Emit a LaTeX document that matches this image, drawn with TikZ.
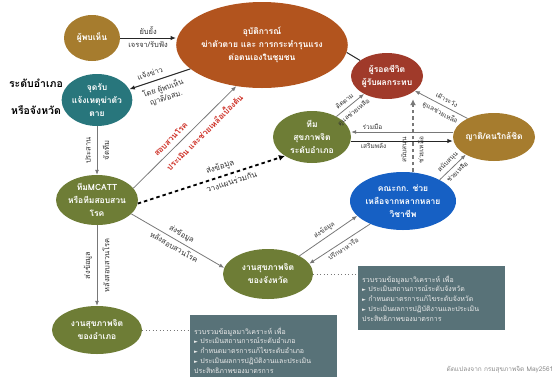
\documentclass[tikz,border=0pt]{standalone}
\usepackage{fontspec}
\setmainfont[Script=Thai]{Loma}
\newfontfamily\symfont{DejaVu Sans}
\usetikzlibrary{shapes.geometric,arrows.meta}
\definecolor{cgold}{RGB}{166,124,46}
\definecolor{crust}{RGB}{178,84,30}
\definecolor{cteal}{RGB}{40,118,124}
\definecolor{cred}{RGB}{160,58,42}
\definecolor{colive}{RGB}{110,125,54}
\definecolor{cblue}{RGB}{22,96,196}
\definecolor{cslate}{RGB}{88,114,120}
\definecolor{cgray}{RGB}{120,120,120}
\definecolor{cdred}{RGB}{205,45,35}
\newcommand{\tri}{{\symfont\fontsize{5}{6}\selectfont ►}\ }
\begin{document}
\begin{tikzpicture}[x=1pt,y=-1pt,
  ell/.style={ellipse,inner sep=0pt,text=white,font=\bfseries\fontsize{8.5}{13}\selectfont,align=center},
  lbl/.style={font=\fontsize{7.5}{10}\selectfont,text=black!80,inner sep=1pt},
  rlbl/.style={font=\bfseries\fontsize{8}{10}\selectfont,text=cdred,inner sep=1pt},
  side/.style={font=\bfseries\fontsize{10.5}{12}\selectfont,text=black},
  garr/.style={draw=cgray,line width=0.8pt,-{Latex[length=5pt,width=4pt]}},
  barr/.style={draw=black!85,line width=1pt,-{Latex[length=5.5pt,width=4.5pt]}},
  dasharr/.style={draw=black,line width=1.8pt,dash pattern=on 3.5pt off 3pt,-{Latex[length=6pt,width=6pt]}},
  gdasharr/.style={draw=cgray,line width=1.8pt,dash pattern=on 3.5pt off 3pt,-{Latex[length=6pt,width=6pt]}},
  dotline/.style={draw=cgray,line width=0.9pt,dash pattern=on 1pt off 2.5pt},
  infobox/.style={rectangle,fill=cslate,text=white!92!black,inner xsep=4pt,inner ysep=2.5pt,anchor=north west,align=left,font=\fontsize{7}{9.8}\selectfont}]
\useasboundingbox (0,0) rectangle (554,376);

% nodes
\node[ell,fill=cgold,minimum width=56pt,minimum height=46pt] (finder) at (92,38) {ผู้พบเห็น};
\node[ell,fill=crust,minimum width=156pt,minimum height=86pt] (incident) at (262,45) {อุบัติการณ์\\ฆ่าตัวตาย และ การกระทำรุนแรง\\ต่อตนเองในชุมชน};
\node[ell,fill=cteal,minimum width=66pt,minimum height=52pt] (notify) at (97,100) {จุดรับ\\แจ้งเหตุฆ่าตัว\\ตาย};
\node[ell,fill=cred,minimum width=72pt,minimum height=46pt] (survivor) at (387,76) {ผู้รอดชีวิต\\ผู้รับผลกระทบ};
\node[ell,fill=colive,minimum width=78pt,minimum height=52pt] (mhteam) at (312,137) {ทีม\\สุขภาพจิต\\ระดับอำเภอ};
\node[ell,fill=cgold,minimum width=82pt,minimum height=48pt] (family) at (494,137) {ญาติ/คนใกล้ชิด};
\node[ell,fill=colive,minimum width=76pt,minimum height=50pt] (mcatt) at (97,200) {ทีมMCATT\\หรือทีมสอบสวน\\โรค};
\node[ell,fill=cblue,minimum width=90pt,minimum height=58pt] (committee) at (403,201) {คณะกก. ช่วย\\เหลือจากหลากหลาย\\วิชาชีพ};
\node[ell,fill=colive,minimum width=90pt,minimum height=48pt] (district) at (97,330) {งานสุขภาพจิต\\ของอำเภอ};
\node[ell,fill=colive,minimum width=90pt,minimum height=50pt] (province) at (268,274) {งานสุขภาพจิต\\ของจังหวัด};

\node[side] (lvl1) at (36,83) {ระดับอำเภอ};
\node[side] (lvl2) at (36,110) {หรือจังหวัด};

\node[infobox,text width=139pt,minimum height=70pt] (boxd) at (190,315) {รวบรวมข้อมูลมาวิเคราะห์ เพื่อ\\
\tri ประเมินสถานการณ์ระดับอำเภอ\\
\tri กำหนดมาตรการแก้ไขระดับอำเภอ\\
\tri ประเมินผลการปฏิบัติงานและประเมิน\\
ประสิทธิภาพของมาตรการ};
\node[infobox,text width=139pt,minimum height=64pt] (boxp) at (358,266) {รวบรวมข้อมูลมาวิเคราะห์ เพื่อ\\
\tri ประเมินสถานการณ์ระดับจังหวัด\\
\tri กำหนดมาตรการแก้ไขระดับจังหวัด\\
\tri ประเมินผลการปฏิบัติงานและประเมิน\\
ประสิทธิภาพของมาตรการ};

\node[anchor=west,font=\fontsize{6.5}{8}\selectfont,text=black!45] (note) at (443,370) {ดัดแปลงจาก กรมสุขภาพจิต May2561};

% connectors
\draw[barr] (finder.east) -- (finder.east -| incident.west)
  node[lbl,midway,above=2pt]{ยับยั้ง} node[lbl,midway,below=2pt]{เจรจา/รับฟัง};
\draw[barr] (incident) -- (notify)
  node[lbl,pos=0.62,sloped,above=4pt]{แจ้งข่าว}
  node[lbl,pos=0.5,sloped,below=4pt,align=center]{โดย ผู้พบเห็น\\ญาติ/อสม.};
\draw[garr] (mcatt.18) -- (incident.238)
  node[rlbl,pos=0.42,sloped,above=4pt]{สอบสวนโรค}
  node[rlbl,pos=0.62,sloped,below=4pt]{ประเมิน และช่วยเหลือเบื้องต้น};
\draw[dasharr] (mcatt.-5) -- (mhteam.215)
  node[lbl,pos=0.58,sloped,above=3pt,font=\fontsize{8}{10}\selectfont]{ส่งข้อมูล}
  node[lbl,pos=0.62,sloped,below=3pt,font=\fontsize{8}{10}\selectfont]{วางแผนร่วมกัน};
\draw[draw=black!85,line width=1pt] (incident.-5) -- (survivor.150);
\draw[garr] (mhteam.40) -- (survivor.218)
  node[lbl,pos=0.45,sloped,above=3pt,font=\fontsize{6.5}{8}\selectfont]{ติดตาม}
  node[lbl,pos=0.45,sloped,below=3pt,font=\fontsize{6.5}{8}\selectfont]{ดูแลช่วยเหลือ};
\draw[garr] (family.145) -- (survivor.-28)
  node[lbl,pos=0.45,sloped,above=3pt,font=\fontsize{6.5}{8}\selectfont]{เฝ้าระวัง}
  node[lbl,pos=0.45,sloped,below=3pt,font=\fontsize{6.5}{8}\selectfont]{ดูแลช่วยเหลือ};
\draw[garr] ([yshift=5pt]family.west) -- ([yshift=5pt]family.west -| mhteam.east)
  node[lbl,pos=0.79,above=1pt,font=\fontsize{6.5}{8}\selectfont]{ร่วมมือ};
\draw[barr] ([yshift=-4pt]mhteam.east) -- ([yshift=-4pt]mhteam.east -| family.west)
  node[lbl,pos=0.22,below=1pt,font=\fontsize{6.5}{8}\selectfont]{เสริมพลัง};
\coordinate (dx) at (413,0);
\draw[gdasharr] (committee.north -| dx) -- (survivor.south -| dx)
  node[lbl,pos=0.3,sloped,above=3pt,font=\fontsize{6.5}{8}\selectfont]{สนับสนุน}
  node[lbl,pos=0.3,sloped,below=3pt,font=\fontsize{6.5}{8}\selectfont]{ช่วยเหลือ};
\draw[garr] (committee.30) -- (family.212)
  node[lbl,pos=0.5,sloped,above=2pt,font=\fontsize{6.5}{8}\selectfont]{สนับสนุน}
  node[lbl,pos=0.5,sloped,below=2pt,font=\fontsize{6.5}{8}\selectfont]{ช่วยเหลือ};
\draw[garr] (notify) -- (mcatt)
  node[lbl,midway,xshift=-9pt,rotate=90]{ประสาน}
  node[lbl,midway,xshift=9pt,rotate=90]{จัดทีม};
\draw[garr] (mcatt) -- (district)
  node[lbl,midway,xshift=-9pt,rotate=90]{ส่งข้อมูล}
  node[lbl,midway,xshift=9pt,rotate=90]{หลังสอบสวนโรค};
\draw[garr] (mcatt.-22) -- (province.172)
  node[lbl,pos=0.5,sloped,above=2pt]{ส่งข้อมูล}
  node[lbl,pos=0.5,sloped,below=2pt]{หลังสอบสวนโรค};
\draw[garr] (province.30) -- (committee.198)
  node[lbl,pos=0.5,sloped,above=2pt,font=\fontsize{6.5}{8}\selectfont]{ส่งข้อมูล};
\draw[garr] (committee.215) -- (province.14)
  node[lbl,pos=0.5,sloped,below=2pt,font=\fontsize{6.5}{8}\selectfont]{ปรึกษาหารือ};
\draw[dotline] (district.east) -- (district.east -| boxd.west);
\draw[dotline] (province.east) -- (province.east -| boxp.west);
\end{tikzpicture}
\end{document}
